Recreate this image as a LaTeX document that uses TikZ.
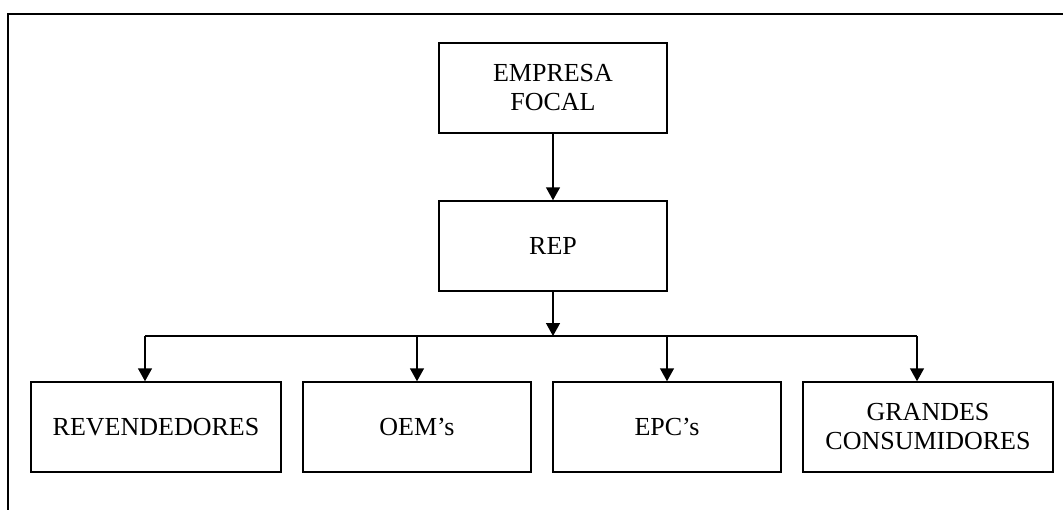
\documentclass[tikz,border=0pt]{standalone}
\usepackage{fontspec}
\setmainfont{Liberation Serif}
\usetikzlibrary{arrows.meta, positioning}

\begin{document}
\begin{tikzpicture}[
    x=0.5pt, y=-0.5pt,
    >={Triangle[width=7pt, length=6.5pt]},
    %% ── node styles ──────────────────────────────────────────────────────────
    entity/.style={
        draw, line width=0.75pt,
        minimum width=#1, minimum height=45pt,
        inner sep=0pt, align=center,
        font=\fontsize{13}{14.5}\selectfont
    },
    entity/.default=114pt,
    %% ── edge styles ──────────────────────────────────────────────────────────
    flow/.style={->, line width=0.75pt},
    bus/.style={line width=0.75pt},
    frame/.style={line width=0.8pt},
]

\useasboundingbox (0,0) rectangle (1063,510);

%% ── Outer frame (top and left only) ─────────────────────────────────────────
\coordinate (frameR) at (1063,14);
\coordinate (frameB) at (8,510);
\draw[frame] (frameR) -| (frameB);

%% ── Focal company and REP (centre column) ───────────────────────────────────
\node[entity] (focal) at (553, 88)  {EMPRESA\\FOCAL};
\node[entity] (rep)   at (553,246)  {REP};

%% ── Channels (bottom row) ───────────────────────────────────────────────────
\node[entity=125pt] (reseller) at (156,427) {REVENDEDORES};
\node[entity]       (oem)      at (417,427) {OEM’s};
\node[entity]       (epc)      at (667,427) {EPC’s};
\node[entity=125pt] (bigcons)  at (928,427) {GRANDES\\CONSUMIDORES};

%% ─────────────────────────────────────────────────────────────────────────────
%% Connectors
%% ─────────────────────────────────────────────────────────────────────────────

%% focal → REP
\draw[flow] (focal) -- (rep);

%% REP → distribution bus
\coordinate (busL) at (145,336);
\coordinate (busR) at (917,336);
\draw[flow] (rep) -- (rep |- busL);
\draw[bus] (busL) -- (busR);

%% bus → each channel
\draw[flow] (busL) -- (busL |- reseller.north);
\draw[flow] (oem |- busL) -- (oem);
\draw[flow] (epc |- busL) -- (epc);
\draw[flow] (busR) -- (busR |- bigcons.north);

\end{tikzpicture}
\end{document}
